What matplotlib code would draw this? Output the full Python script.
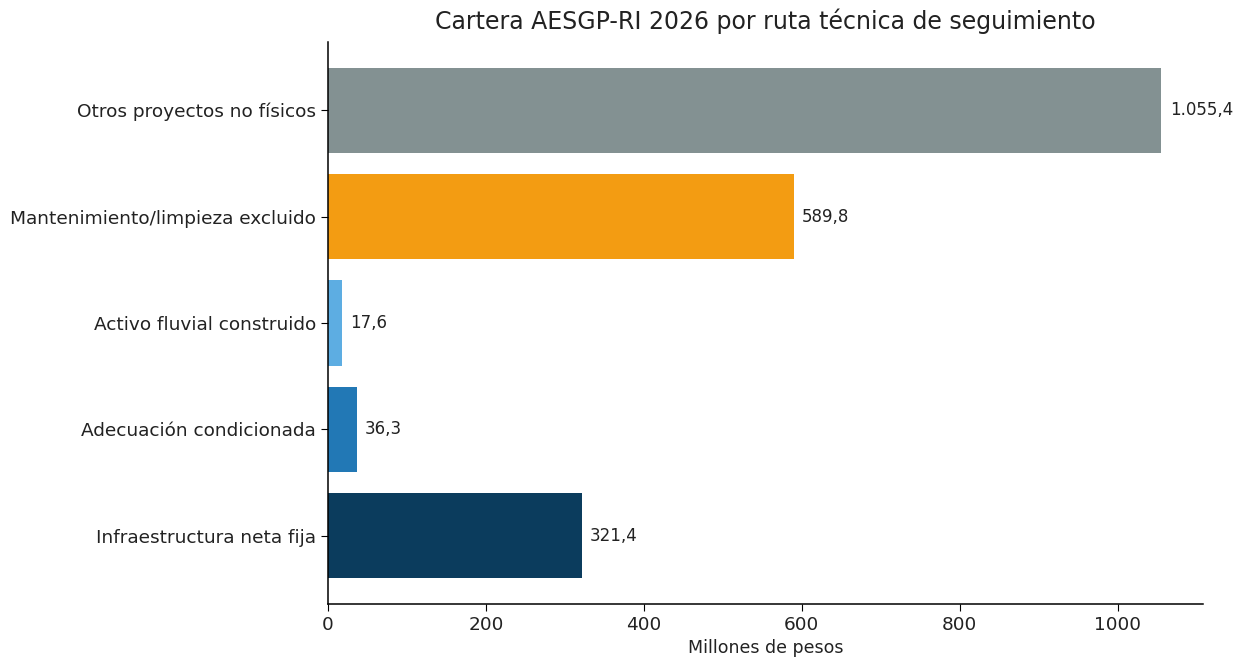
import matplotlib
matplotlib.use("Agg")
import matplotlib.pyplot as plt

categorias = ["Infraestructura neta fija", "Adecuación condicionada", "Activo fluvial construido",
              "Mantenimiento/limpieza excluido", "Otros proyectos no físicos"]
valores = [321.4, 36.3, 17.6, 589.8, 1055.4]
colores = ["#0b3c5d", "#2278b5", "#5dade2", "#f39c12", "#839192"]


def fmt(v):
    s = f"{v:,.1f}"
    return s.replace(",", "X").replace(".", ",").replace("X", ".")


fig = plt.figure(figsize=(12.43, 6.6), dpi=100)
ax = fig.add_axes([328 / 1243, 56 / 660, (1203 - 328) / 1243, (604 - 42) / 660])
ax.barh(categorias, valores, color=colores, height=0.8)
for i, v in enumerate(valores):
    ax.annotate(fmt(v), (v, i), xytext=(6, 0), textcoords="offset points",
                va="center", ha="left", fontsize=12, color="#222222")

ax.set_xlim(0, max(valores) * 1.05)
ax.set_title("Cartera AESGP-RI 2026 por ruta técnica de seguimiento", fontsize=17, pad=9,
             color="#222222")
ax.set_xlabel("Millones de pesos", fontsize=12.5, color="#222222")
ax.tick_params(labelsize=13.3, labelcolor="#222222", length=5)
ax.spines["top"].set_visible(False)
ax.spines["right"].set_visible(False)
ax.spines["left"].set_linewidth(1.1)
ax.spines["bottom"].set_linewidth(1.1)

fig.savefig("out.png", dpi=100)
